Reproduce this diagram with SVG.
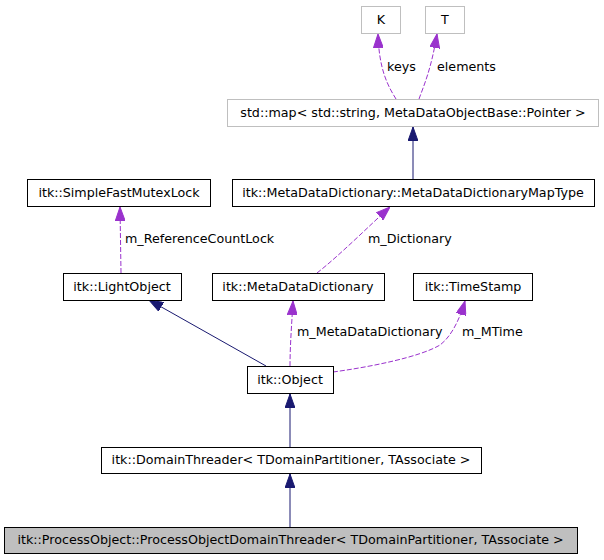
<svg xmlns="http://www.w3.org/2000/svg" width="604" height="560" viewBox="0 0 604 560">
<style>
text{font-family:"DejaVu Sans","Liberation Sans",sans-serif;font-size:12.7px;fill:#000}
.n text{text-anchor:middle}
.box{fill:#fff;stroke:#000;stroke-width:1}
.gbox{fill:#fff;stroke:#bfbfbf;stroke-width:1}
.cur{fill:#bfbfbf;stroke:#000;stroke-width:1}
.inh{fill:none;stroke:#191970;stroke-width:1;marker-end:url(#an)}
.use{fill:none;stroke:#9a32cd;stroke-width:1;stroke-dasharray:5,2;marker-end:url(#ap)}
</style>
<defs>
<marker id="an" markerUnits="userSpaceOnUse" viewBox="0 0 14 10" markerWidth="14" markerHeight="10" refX="14" refY="5" orient="auto"><path d="M0,0 L14,5 L0,10 z" fill="#191970" stroke="#191970"/></marker>
<marker id="ap" markerUnits="userSpaceOnUse" viewBox="0 0 14 10" markerWidth="14" markerHeight="10" refX="14" refY="5" orient="auto"><path d="M0,0 L14,5 L0,10 z" fill="#9a32cd" stroke="#9a32cd"/></marker>
</defs>
<g id="edges">
<path class="use" d="M396,99 C388,86 379,70 378,34"/>
<text x="387" y="71">keys</text>
<path class="use" d="M419,99 C424,85 431,70 437,34"/>
<text x="437" y="71">elements</text>
<path class="inh" d="M413,179 L413,127"/>
<path class="use" d="M121,273 L120,207"/>
<text x="125" y="243">m_ReferenceCountLock</text>
<path class="use" d="M317,273 C340,255 370,225 390,207"/>
<text x="368" y="243">m_Dictionary</text>
<path class="inh" d="M266,366 L149,300"/>
<path class="use" d="M290,366 C290,345 292,320 293,301"/>
<text x="297" y="336">m_MetaDataDictionary</text>
<path class="use" d="M333,372 C370,367 420,357 440,345 C452,336 460,318 465,301"/>
<text x="462" y="336">m_MTime</text>
<path class="inh" d="M290,447 L290,394"/>
<path class="inh" d="M290,527 L290,474"/>
</g>
<g id="n_K" class="n"><rect class="gbox" x="361.5" y="6.5" width="39" height="27"/><text x="381" y="24">K</text></g>
<g id="n_T" class="n"><rect class="gbox" x="425.5" y="6.5" width="39" height="27"/><text x="445" y="24">T</text></g>
<g id="n_map" class="n"><rect class="gbox" x="227.5" y="99.5" width="371" height="27"/><text x="413" y="117">std::map&lt; std::string, MetaDataObjectBase::Pointer &gt;</text></g>
<g id="n_mutex" class="n"><rect class="box" x="27.5" y="179.5" width="183" height="27"/><text x="119" y="197">itk::SimpleFastMutexLock</text></g>
<g id="n_maptype" class="n"><rect class="box" x="232.5" y="179.5" width="362" height="27"/><text x="413" y="197">itk::MetaDataDictionary::MetaDataDictionaryMapType</text></g>
<g id="n_light" class="n"><rect class="box" x="63.5" y="273.5" width="118" height="27"/><text x="122" y="291">itk::LightObject</text></g>
<g id="n_mdd" class="n"><rect class="box" x="212.5" y="273.5" width="172" height="27"/><text x="298" y="291">itk::MetaDataDictionary</text></g>
<g id="n_ts" class="n"><rect class="box" x="413.5" y="273.5" width="119" height="27"/><text x="473" y="291">itk::TimeStamp</text></g>
<g id="n_obj" class="n"><rect class="box" x="247.5" y="366.5" width="86" height="27"/><text x="290" y="384">itk::Object</text></g>
<g id="n_dt" class="n"><rect class="box" x="101.5" y="447.5" width="380" height="26"/><text x="291" y="464">itk::DomainThreader&lt; TDomainPartitioner, TAssociate &gt;</text></g>
<g id="n_po" class="n"><rect class="cur" x="4.5" y="527.5" width="573" height="26"/><text x="290.5" y="544">itk::ProcessObject::ProcessObjectDomainThreader&lt; TDomainPartitioner, TAssociate &gt;</text></g>
</svg>
